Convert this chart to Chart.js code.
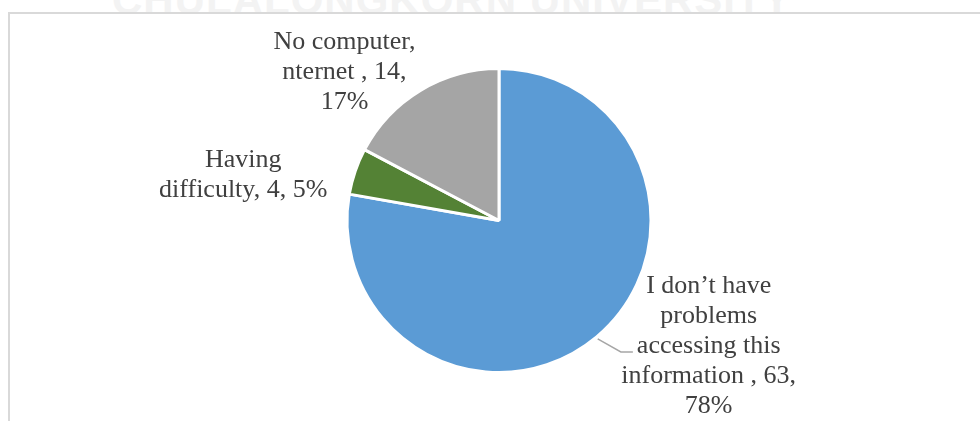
<!DOCTYPE html>
<html>
<head>
<meta charset="utf-8">
<script src="https://cdn.jsdelivr.net/npm/chart.js@4/dist/chart.umd.min.js"></script>
<style>
  html, body { margin: 0; padding: 0; background: #fff; overflow: hidden; }
  #wrap { position: relative; width: 980px; height: 421px; overflow: hidden; }
  #mark {
    position: absolute; left: 0; top: 0; width: 980px; height: 12px; overflow: hidden;
  }
  #mark span {
    position: absolute; left: 112px; top: -24px; white-space: nowrap;
    font: bold 42px "Liberation Sans Narrow", "Liberation Sans", sans-serif;
    color: #f3f3f3; letter-spacing: 1px;
  }
  #frame {
    position: absolute; left: 8px; top: 12px; width: 1000px; height: 500px;
    border: 2px solid #d9d9d9; box-sizing: border-box;
  }
  canvas { position: absolute; left: 0; top: 0; }
</style>
</head>
<body>
<div id="wrap">
  <div id="mark"><span>CHULALONGKORN UNIVERSITY</span></div>
  <div id="frame"></div>
  <canvas id="pie" width="980" height="421"></canvas>
</div>
<script>
// survey answers
const categories = ["I don\u2019t have problems accessing this information ", "Having difficulty", "No computer, nternet "];
const counts = [63, 4, 14];
const colors = ["#5b9bd5", "#548235", "#a5a5a5"];

// label placement: offset of the text block from the slice's outer mid point, and wrap width
const labelOffsets = [[112, 9], [-112, 4], [-76, -18]];
const wrapWidths = [185, 175, 150];

const total = counts.reduce((a, b) => a + b, 0);

function wrapText(ctx, text, maxW) {
  const words = text.split(" ").filter(w => w.length);
  const lines = [];
  let cur = "";
  for (const w of words) {
    let test = cur ? cur + " " + w : w;
    if (cur && ctx.measureText(test).width > maxW) {
      lines.push(cur);
      cur = w;
    } else {
      cur = test;
    }
  }
  if (cur) lines.push(cur);
  return lines;
}

const pieLabels = {
  id: "pieLabels",
  afterDatasetsDraw(chart) {
    const ctx = chart.ctx;
    const meta = chart.getDatasetMeta(0);
    ctx.save();
    ctx.font = "26px 'Liberation Serif', 'Times New Roman', serif";
    ctx.fillStyle = "#404040";
    ctx.textAlign = "center";
    ctx.textBaseline = "middle";
    meta.data.forEach((arc, i) => {
      const p = arc.getProps(["x", "y", "startAngle", "endAngle", "outerRadius"], true);
      const mid = (p.startAngle + p.endAngle) / 2;
      const ax = p.x + Math.cos(mid) * p.outerRadius;
      const ay = p.y + Math.sin(mid) * p.outerRadius;
      const pct = Math.round(counts[i] / total * 100);
      const text = categories[i] + ", " + counts[i] + ", " + pct + "%";
      const lines = wrapText(ctx, text, wrapWidths[i]);
      const cx = ax + labelOffsets[i][0];
      const cy = ay + labelOffsets[i][1];
      const lh = 30;
      lines.forEach((ln, k) => {
        ctx.fillText(ln, cx, cy + (k - (lines.length - 1) / 2) * lh);
      });
      // leader line for the big slice
      if (i === 0) {
        const k = 2;
        const ly = cy + (k - (lines.length - 1) / 2) * lh + 6;
        const lx = cx - ctx.measureText(lines[k]).width / 2 - 4;
        ctx.strokeStyle = "#a6a6a6";
        ctx.lineWidth = 1.5;
        ctx.beginPath();
        ctx.moveTo(ax + 1, ay + 2);
        ctx.lineTo(lx - 12, ly);
        ctx.lineTo(lx, ly);
        ctx.stroke();
      }
    });
    ctx.restore();
  }
};

new Chart(document.getElementById("pie").getContext("2d"), {
  type: "pie",
  data: {
    labels: categories,
    datasets: [{
      data: counts,
      backgroundColor: colors,
      borderColor: "#ffffff",
      borderWidth: 3
    }]
  },
  options: {
    responsive: false,
    animation: false,
    layout: { padding: { left: 18, right: 0, top: 67, bottom: 47 } },
    plugins: {
      legend: { display: false },
      tooltip: { enabled: false }
    }
  },
  plugins: [pieLabels]
});
</script>
</body>
</html>
